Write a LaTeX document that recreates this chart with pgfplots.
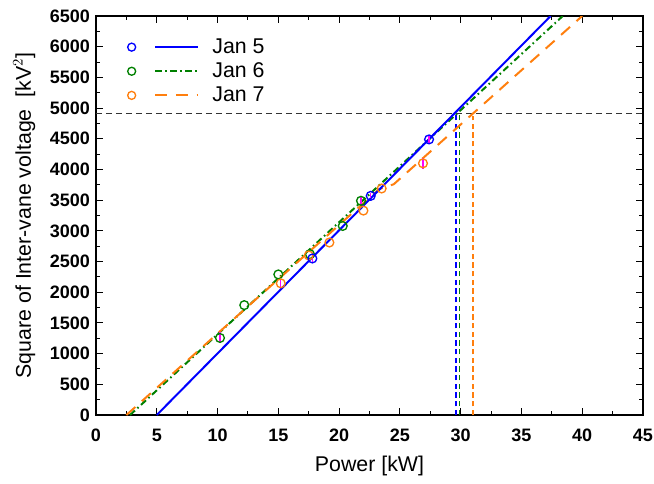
\documentclass[border=0pt]{standalone}
\usepackage{pgfplots}
\pgfplotsset{compat=1.18}
\usepackage{fontspec}
\setmainfont{Liberation Sans}
\definecolor{cblue}{RGB}{0,0,255}
\definecolor{cgreen}{RGB}{0,128,0}
\definecolor{corange}{RGB}{255,127,14}
\definecolor{cmag}{RGB}{255,0,255}
\begin{document}
\begin{tikzpicture}
\path[use as bounding box] (-72pt,-51pt) rectangle (418.5pt,311.25pt);
\begin{axis}[
  scale only axis, width=410.25pt, height=299.25pt,
  xmin=0, xmax=45, ymin=0, ymax=6500,
  xtick={0,5,...,45}, ytick={0,500,...,6500},
  minor x tick num=1, minor y tick num=1,
  tick align=inside, tick pos=both,
  major tick length=5pt, minor tick length=3pt,
  axis line style={line width=1pt}, every tick/.style={line width=0.8pt,black},
  /pgf/number format/assume math mode=true,
  /pgf/number format/set thousands separator={},
  ticklabel style={font=\fontsize{13.5}{15}\selectfont\bfseries},
  xticklabel style={yshift=-7pt},
  yticklabel style={xshift=-1pt},
  label style={font=\fontsize{16}{18}\selectfont},
  xlabel={Power [kW]},
  ylabel={Square of Inter-vane voltage\ \ [kV$^{2}$]},
  xlabel style={yshift=-4pt},
  ylabel style={yshift=4pt},
  legend style={at={(axis cs:2.2,6220)}, anchor=north west, draw=none, fill=none,
    font=\fontsize{16}{18}\selectfont, row sep=1.5pt, cells={anchor=west}},
  legend cell align=left,
]
\addlegendimage{legend image code/.code={\draw[cblue,line width=1pt] (0cm,0cm) circle (3pt); \draw[cblue,line width=1.5pt] (0.62cm,0cm) -- (1.75cm,0cm); \path (2.05cm,0cm);}}
\addlegendentry{Jan 5}
\addlegendimage{legend image code/.code={\draw[cgreen,line width=1pt] (0cm,0cm) circle (3pt); \draw[cgreen,line width=1.5pt,dash pattern=on 5pt off 2.5pt on 1.2pt off 2.5pt] (0.62cm,0cm) -- (1.75cm,0cm); \path (2.05cm,0cm);}}
\addlegendentry{Jan 6}
\addlegendimage{legend image code/.code={\draw[corange,line width=1pt] (0cm,0cm) circle (3pt); \draw[corange,line width=1.5pt,dash pattern=on 9pt off 6.5pt] (0.62cm,0cm) -- (1.75cm,0cm); \path (2.05cm,0cm);}}
\addlegendentry{Jan 7}

% reference lines
\addplot[black!80, line width=0.8pt, dash pattern=on 4.5pt off 3pt, forget plot] coordinates {(0,4910) (45,4910)};
\addplot[cblue, line width=1.2pt, dash pattern=on 4pt off 2.5pt, forget plot] coordinates {(29.6,0) (29.6,4910)};
\addplot[cgreen, line width=1.2pt, dash pattern=on 4pt off 2.5pt, forget plot] coordinates {(29.9,0) (29.9,4910)};
\addplot[corange, line width=1.2pt, dash pattern=on 4pt off 2.5pt, forget plot] coordinates {(31.0,0) (31.0,4870)};

% fit lines
\addplot[cgreen, line width=1.5pt, dash pattern=on 5pt off 2.5pt on 1.2pt off 2.5pt, forget plot] coordinates {(2.8,0) (38.4,6500)};
\addplot[corange, line width=1.5pt, dash pattern=on 9pt off 6.5pt, forget plot] coordinates {(2.5,0) (23.3,3680) (24.5,3760) (40,6500)};
\addplot[cblue, line width=1.5pt, forget plot] coordinates {(5,0) (37.4,6500)};

% data
\addplot[only marks, mark=o, mark size=3.3pt, cgreen, mark options={line width=1pt}, forget plot,
  error bars/.cd, y dir=both, y explicit, error mark=none, error bar style={cmag, line width=1pt}]
  table[x=x, y=y, y error=e] {
x y e
10.2 1255 90
12.2 1790 0
15.0 2290 0
17.6 2620 0
20.3 3080 0
21.8 3490 70
};
\addplot[only marks, mark=o, mark size=3.3pt, corange, mark options={line width=1pt}, forget plot,
  error bars/.cd, y dir=both, y explicit, error mark=none, error bar style={cmag, line width=1pt}]
  table[x=x, y=y, y error=e] {
x y e
15.2 2145 60
17.5 2600 0
19.2 2810 0
22.0 3330 0
23.5 3690 0
26.9 4100 90
};
\addplot[only marks, mark=o, mark size=3.3pt, cblue, mark options={line width=1pt}, forget plot,
  error bars/.cd, y dir=both, y explicit, error mark=none, error bar style={cmag, line width=1pt}]
  table[x=x, y=y, y error=e] {
x y e
17.8 2550 50
22.6 3570 40
27.4 4490 60
};
\end{axis}
\end{tikzpicture}
\end{document}
